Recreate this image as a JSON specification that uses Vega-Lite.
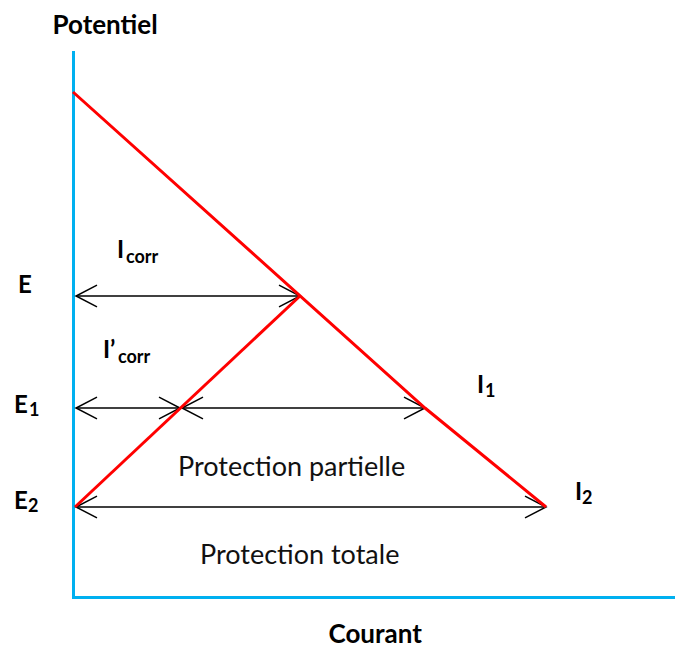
{
  "$schema": "https://vega.github.io/schema/vega-lite/v6.json",
  "width": 600,
  "height": 545,
  "autosize": {"type": "none"},
  "padding": {"left": 73, "top": 52, "right": 2, "bottom": 51},
  "background": "white",
  "config": {"view": {"stroke": null}, "font": "Lato"},
  "datasets": {
    "red": [
      {"seg": "cathodique", "o": 1, "x": 0, "y": 505},
      {"seg": "cathodique", "o": 2, "x": 352, "y": 189},
      {"seg": "cathodique", "o": 3, "x": 473, "y": 90},
      {"seg": "anodique", "o": 1, "x": 2, "y": 90},
      {"seg": "anodique", "o": 2, "x": 227, "y": 301}
    ],
    "arrows": [
      {"y": 301, "x": 3, "x2": 227},
      {"y": 189, "x": 3, "x2": 107},
      {"y": 189, "x": 109, "x2": 352},
      {"y": 90, "x": 3, "x2": 473}
    ],
    "main": [
      {"t": "E", "x": -55, "y": 304},
      {"t": "E", "x": -59, "y": 184},
      {"t": "E", "x": -59, "y": 88},
      {"t": "I", "x": 44, "y": 339},
      {"t": "I’", "x": 30, "y": 239},
      {"t": "I", "x": 404, "y": 204},
      {"t": "I", "x": 502, "y": 97}
    ],
    "sub": [
      {"t": "1", "x": -44, "y": 181},
      {"t": "2", "x": -45, "y": 85},
      {"t": "corr", "x": 53, "y": 334},
      {"t": "corr", "x": 45, "y": 234},
      {"t": "1", "x": 412, "y": 200},
      {"t": "2", "x": 509, "y": 93}
    ],
    "zones": [
      {"t": "Protection partielle", "x": 105, "y": 121},
      {"t": "Protection totale", "x": 127, "y": 33}
    ]
  },
  "encoding": {
    "x": {
      "field": "x", "type": "quantitative",
      "scale": {"domain": [0, 600], "nice": false, "zero": false},
      "axis": {
        "title": "Courant", "ticks": false, "labels": false, "grid": false,
        "domainColor": "#00B0F0", "domainWidth": 3, "domainCap": "square",
        "titleX": 255, "titleY": 45, "titleAlign": "left", "titleBaseline": "alphabetic",
        "titleFont": "Lato", "titleFontSize": 26, "titleFontWeight": "bold", "titleColor": "black"
      }
    },
    "y": {
      "field": "y", "type": "quantitative",
      "scale": {"domain": [0, 545], "nice": false, "zero": false},
      "axis": {
        "title": "Potentiel", "ticks": false, "labels": false, "grid": false,
        "domainColor": "#00B0F0", "domainWidth": 3, "domainCap": "square",
        "titleAngle": 0, "titleX": -21, "titleY": -19, "titleAlign": "left", "titleBaseline": "alphabetic",
        "titleFont": "Lato", "titleFontSize": 26, "titleFontWeight": "bold", "titleColor": "black"
      }
    }
  },
  "layer": [
    {
      "data": {"name": "arrows"},
      "mark": {"type": "rule", "color": "black", "strokeWidth": 1.5},
      "encoding": {"x2": {"field": "x2"}}
    },
    {
      "data": {"name": "arrows"},
      "transform": [{"fold": ["x", "x2"], "as": ["end", "x"]}],
      "mark": {"type": "point", "filled": false, "color": "black", "strokeWidth": 1.5, "opacity": 1, "size": 1764},
      "encoding": {
        "shape": {
          "field": "end", "type": "nominal", "legend": null,
          "scale": {"domain": ["x", "x2"], "range": ["M1,-0.52L0,0L1,0.52", "M-1,-0.52L0,0L-1,0.52"]}
        }
      }
    },
    {
      "data": {"name": "red"},
      "mark": {"type": "line", "color": "#FF0000", "strokeWidth": 3},
      "encoding": {"detail": {"field": "seg"}, "order": {"field": "o", "type": "quantitative"}}
    },
    {
      "data": {"name": "main"},
      "mark": {"type": "text", "align": "left", "baseline": "alphabetic", "font": "Lato", "fontSize": 24, "fontWeight": "bold", "color": "black"},
      "encoding": {"text": {"field": "t"}}
    },
    {
      "data": {"name": "sub"},
      "mark": {"type": "text", "align": "left", "baseline": "alphabetic", "font": "Lato", "fontSize": 18, "fontWeight": "bold", "color": "black"},
      "encoding": {"text": {"field": "t"}}
    },
    {
      "data": {"name": "zones"},
      "mark": {"type": "text", "align": "left", "baseline": "alphabetic", "font": "Lato", "fontSize": 27, "color": "#111111"},
      "encoding": {"text": {"field": "t"}}
    }
  ]
}
